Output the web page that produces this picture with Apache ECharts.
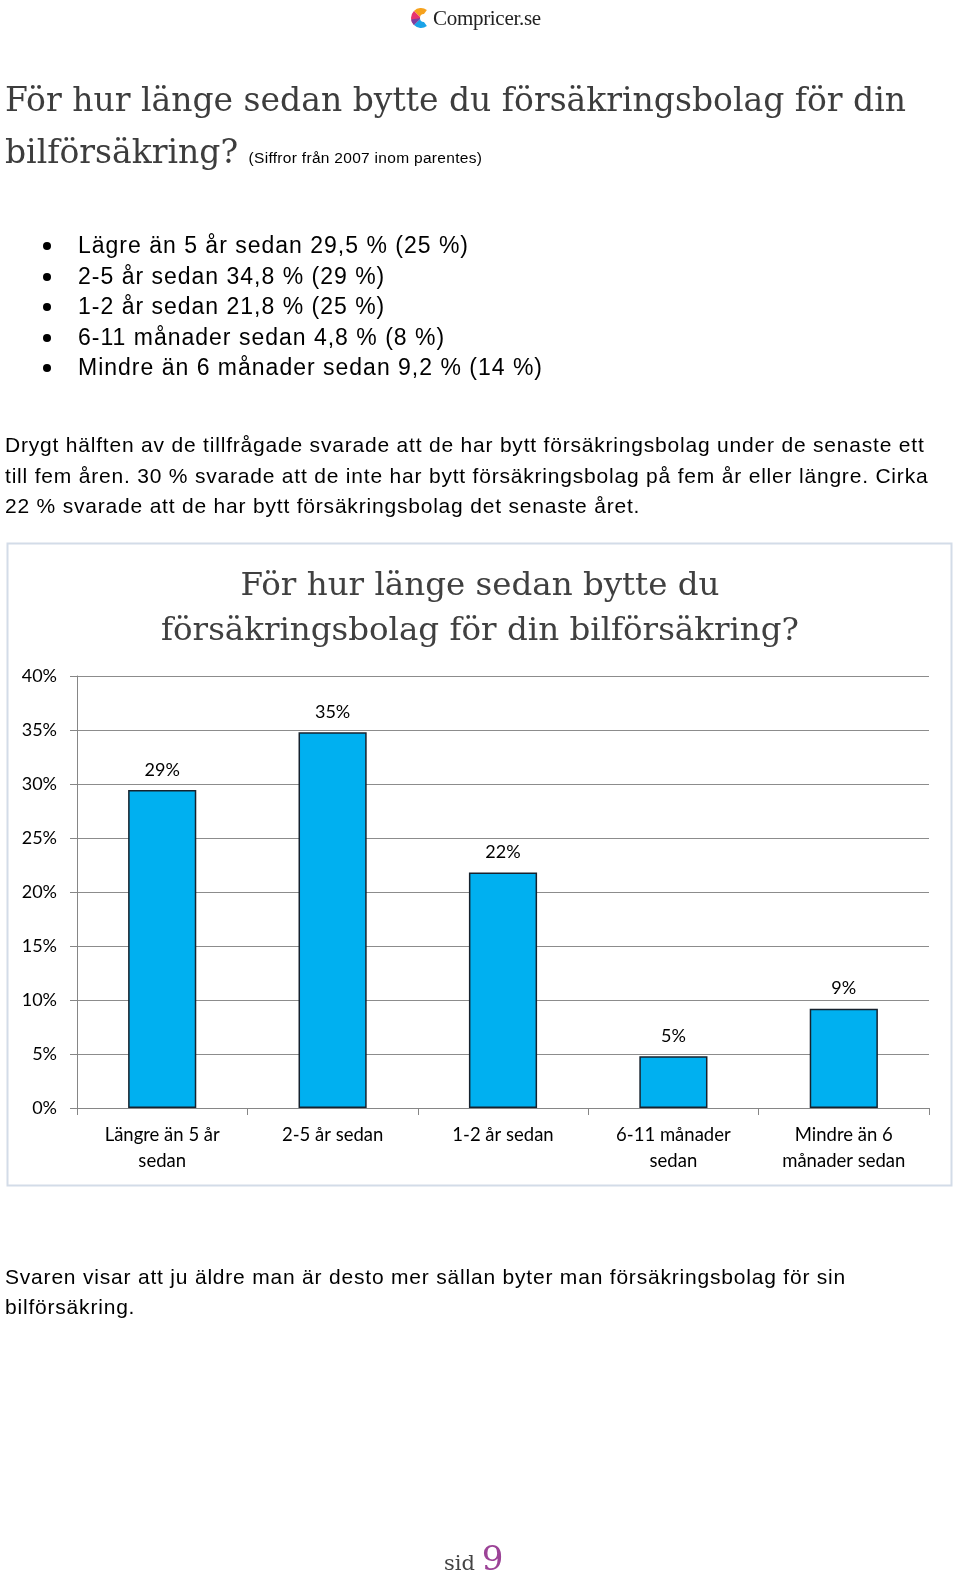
<!DOCTYPE html>
<html>
<head>
<meta charset="utf-8">
<script src="https://cdn.jsdelivr.net/npm/echarts@6/dist/echarts.min.js"></script>
<style>
  html, body { margin: 0; padding: 0; background: #fff; }
  #page { position: relative; width: 960px; height: 1576px; overflow: hidden; }
  #chart { position: absolute; left: 0; top: 0; width: 960px; height: 1576px; }
  .txt { position: absolute; white-space: nowrap; font-family: "Liberation Sans", Arial, sans-serif; color: #000; }
  .slab { font-family: "DejaVu Serif", serif; }
  #logo { left: 433px; top: 6px; font-family: "Liberation Serif", serif; font-size: 21px; line-height: 24px; color: #222; letter-spacing: -0.3px; }
  #heading { left: 5px; top: 74px; font-size: 33px; line-height: 52px; color: #3d3d3d; }
  #heading span { font-family: "Liberation Sans", Arial, sans-serif; font-size: 15.5px; color: #000; letter-spacing: 0.3px; }
  #bullets { left: 0; top: 230px; font-size: 23px; line-height: 30.6px; letter-spacing: 1px; }
  #bullets div { position: relative; padding-left: 78px; }
  #bullets div:before { content: ""; position: absolute; left: 43px; top: 12px; width: 8px; height: 8px; border-radius: 50%; background: #000; }
  #para { left: 5px; top: 430px; font-size: 21px; line-height: 30.5px; letter-spacing: 0.8px; }
  #outro { left: 5px; top: 1262px; font-size: 21px; line-height: 30px; letter-spacing: 0.8px; }
  #sid { left: 444px; top: 1538px; font-size: 21px; line-height: 40px; color: #444; }
  #sid b { font-weight: normal; font-size: 34px; color: #9c4397; }
</style>
</head>
<body>
<div id="page">
  <div id="chart"></div>
  <div id="logo" class="txt">Compricer.se</div>
  <div id="heading" class="txt slab">För hur länge sedan bytte du försäkringsbolag för din<br>bilförsäkring? <span>(Siffror från 2007 inom parentes)</span></div>
  <div id="bullets" class="txt">
    <div>Lägre än 5 år sedan 29,5 % (25 %)</div>
    <div>2-5 år sedan 34,8 % (29 %)</div>
    <div>1-2 år sedan 21,8 % (25 %)</div>
    <div>6-11 månader sedan 4,8 % (8 %)</div>
    <div>Mindre än 6 månader sedan 9,2 % (14 %)</div>
  </div>
  <div id="para" class="txt">Drygt hälften av de tillfrågade svarade att de har bytt försäkringsbolag under de senaste ett<br>till fem åren. 30 % svarade att de inte har bytt försäkringsbolag på fem år eller längre. Cirka<br>22 % svarade att de har bytt försäkringsbolag det senaste året.</div>
  <div id="outro" class="txt">Svaren visar att ju äldre man är desto mer sällan byter man försäkringsbolag för sin<br>bilförsäkring.</div>
  <div id="sid" class="txt slab">sid <b>9</b></div>
</div>
<script>
  var categories = ['Längre än 5 år\nsedan', '2-5 år sedan', '1-2 år sedan', '6-11 månader\nsedan', 'Mindre än 6\nmånader sedan'];
  var shares = [29.45, 34.8, 21.8, 4.8, 9.2];
  var yTicks = [0, 5, 10, 15, 20, 25, 30, 35, 40];

  var myChart = echarts.init(document.getElementById('chart'), null, { renderer: 'canvas' });

  var labelFont = 'Lato, "Open Sans", sans-serif';

  var option = {
    animation: false,
    title: {
      text: 'För hur länge sedan bytte du\nförsäkringsbolag för din bilförsäkring?',
      left: 'center',
      top: 559,
      textStyle: {
        fontFamily: '"DejaVu Serif", serif',
        fontWeight: 'normal',
        fontSize: 32.5,
        lineHeight: 45,
        color: '#404040'
      }
    },
    grid: { left: 77, right: 31, top: 676, bottom: 468 },
    xAxis: {
      type: 'category',
      data: categories,
      axisLine: { lineStyle: { color: '#868686', width: 1 } },
      axisTick: { show: true, length: 7, lineStyle: { color: '#868686' } },
      axisLabel: {
        margin: 14,
        fontFamily: labelFont,
        fontSize: 18.5,
        lineHeight: 26,
        color: '#000',
        interval: 0
      }
    },
    yAxis: {
      type: 'value',
      min: yTicks[0],
      max: yTicks[yTicks.length - 1],
      interval: 5,
      axisLine: { show: true, lineStyle: { color: '#868686', width: 1 } },
      axisTick: { show: true, length: 7, lineStyle: { color: '#868686' } },
      axisLabel: {
        margin: 20,
        fontFamily: labelFont,
        fontSize: 18,
        color: '#000',
        formatter: '{value}%'
      },
      splitLine: { lineStyle: { color: '#8c8c8c', width: 1 } }
    },
    series: [{
      type: 'bar',
      data: shares,
      barWidth: '40%',
      itemStyle: {
        color: '#00b0f0',
        borderColor: '#16222e',
        borderWidth: 1.5
      },
      label: {
        show: true,
        position: 'top',
        distance: 11,
        fontFamily: labelFont,
        fontSize: 18,
        color: '#000',
        formatter: function (p) { return Math.round(p.value) + '%'; }
      }
    }],
    graphic: [
      {
        type: 'rect',
        shape: { x: 7.5, y: 543.5, width: 944, height: 642 },
        style: { fill: 'none', stroke: '#d3dce8', lineWidth: 2 },
        silent: true
      },
      { type: 'sector', shape: { cx: 421, cy: 18, r0: 0, r: 10, startAngle: -Math.PI * 0.75, endAngle: -Math.PI * 0.3 }, style: { fill: '#f6a21d' } },
      { type: 'sector', shape: { cx: 421, cy: 18, r0: 0, r: 10, startAngle: -Math.PI * 1.25, endAngle: -Math.PI * 0.75 }, style: { fill: '#e8336f' } },
      { type: 'sector', shape: { cx: 421, cy: 18, r0: 0, r: 10, startAngle: Math.PI * 0.75, endAngle: Math.PI * 0.3, clockwise: false }, style: { fill: '#1aa3e8' } },
      { type: 'sector', shape: { cx: 421, cy: 18, r0: 0, r: 10, startAngle: Math.PI * 0.75, endAngle: Math.PI * 0.95 }, style: { fill: '#7b3fa0' } },
      { type: 'circle', shape: { cx: 424, cy: 18, r: 4 }, style: { fill: '#fff' } }
    ]
  };

  myChart.setOption(option);
</script>
</body>
</html>
